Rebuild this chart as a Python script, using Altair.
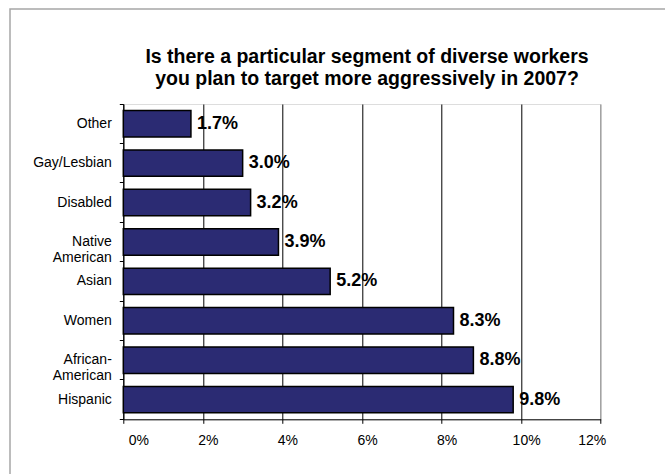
import altair as alt
import pandas as pd

categories = ["Other", "Gay/Lesbian", "Disabled", "Native American", "Asian",
              "Women", "African-American", "Hispanic"]
values = [1.7, 3.0, 3.2, 3.9, 5.2, 8.3, 8.8, 9.8]
x_ticks = [0, 2, 4, 6, 8, 10, 12]
title_lines = ["Is there a particular segment of diverse workers",
               "you plan to target more aggressively in 2007?"]

df = pd.DataFrame({"category": categories, "value": values})

FONT = "Liberation Sans"

y_enc = alt.Y(
    "category:N",
    sort=categories,
    scale=alt.Scale(paddingInner=0, paddingOuter=0),
    axis=alt.Axis(
        title=None,
        bandPosition=1,
        tickExtra=True,
        tickSize=4,
        tickColor="black",
        domainColor="black",
        labelFontSize=14,
        labelFont=FONT,
        labelColor="black",
        labelPadding=8,
        labelLineHeight=16,
        labelExpr="datum.label == 'Native American' ? ['Native', 'American'] : "
                  "datum.label == 'African-American' ? ['African-', 'American'] : datum.label",
    ),
)

x_enc = alt.X(
    "value:Q",
    scale=alt.Scale(domain=[0, 12], nice=False),
    axis=alt.Axis(
        title=None,
        values=x_ticks,
        grid=True,
        gridColor={"condition": {"test": "datum.value >= 12", "value": "#808080"}, "value": "black"},
        gridWidth=1,
        gridOpacity=1,
        tickSize=4,
        tickColor="black",
        domainColor="black",
        labelFontSize=14,
        labelFont=FONT,
        labelColor="black",
        labelPadding=10,
        labelOffset=5,
        labelExpr="datum.value + '%'",
    ),
)

bars = alt.Chart(df).mark_bar(
    height={"band": 0.67}, color="#2B2B73", stroke="black", strokeWidth=1.5
).encode(x=x_enc, y=y_enc)

labels = alt.Chart(df).transform_calculate(
    label="format(datum.value, '.1f') + '%'"
).mark_text(
    align="left", baseline="middle", dx=6, fontSize=18, fontWeight="bold",
    font=FONT, color="black"
).encode(
    x=alt.X("value:Q", scale=alt.Scale(domain=[0, 12], nice=False)),
    y=alt.Y("category:N", sort=categories),
    text="label:N",
)

frame = alt.Chart(alt.Data(values=[{"k": 1}])).mark_rect(
    fill="transparent", stroke="#a6a6a6", strokeWidth=1.5
).encode(
    x=alt.value(-113.3), x2=alt.value(600), y=alt.value(-95), y2=alt.value(420)
)

chart = alt.layer(frame, bars, labels).properties(
    width=477.4,
    height=315.3,
    autosize=alt.AutoSizeParams(type="none"),
    padding={"left": 123.3, "top": 104, "right": 64.3, "bottom": 54.7},
    title=alt.TitleParams(
        text=title_lines,
        font=FONT,
        fontSize=19.5,
        fontWeight="bold",
        color="black",
        lineHeight=22,
        anchor="middle",
        frame="group",
        baseline="alphabetic",
        offset=-96,
        dx=5,
    ),
).configure_view(stroke="#808080", strokeWidth=1).configure(background="white")

chart.save("out.html", embed_options={"renderer": "svg", "actions": False})
